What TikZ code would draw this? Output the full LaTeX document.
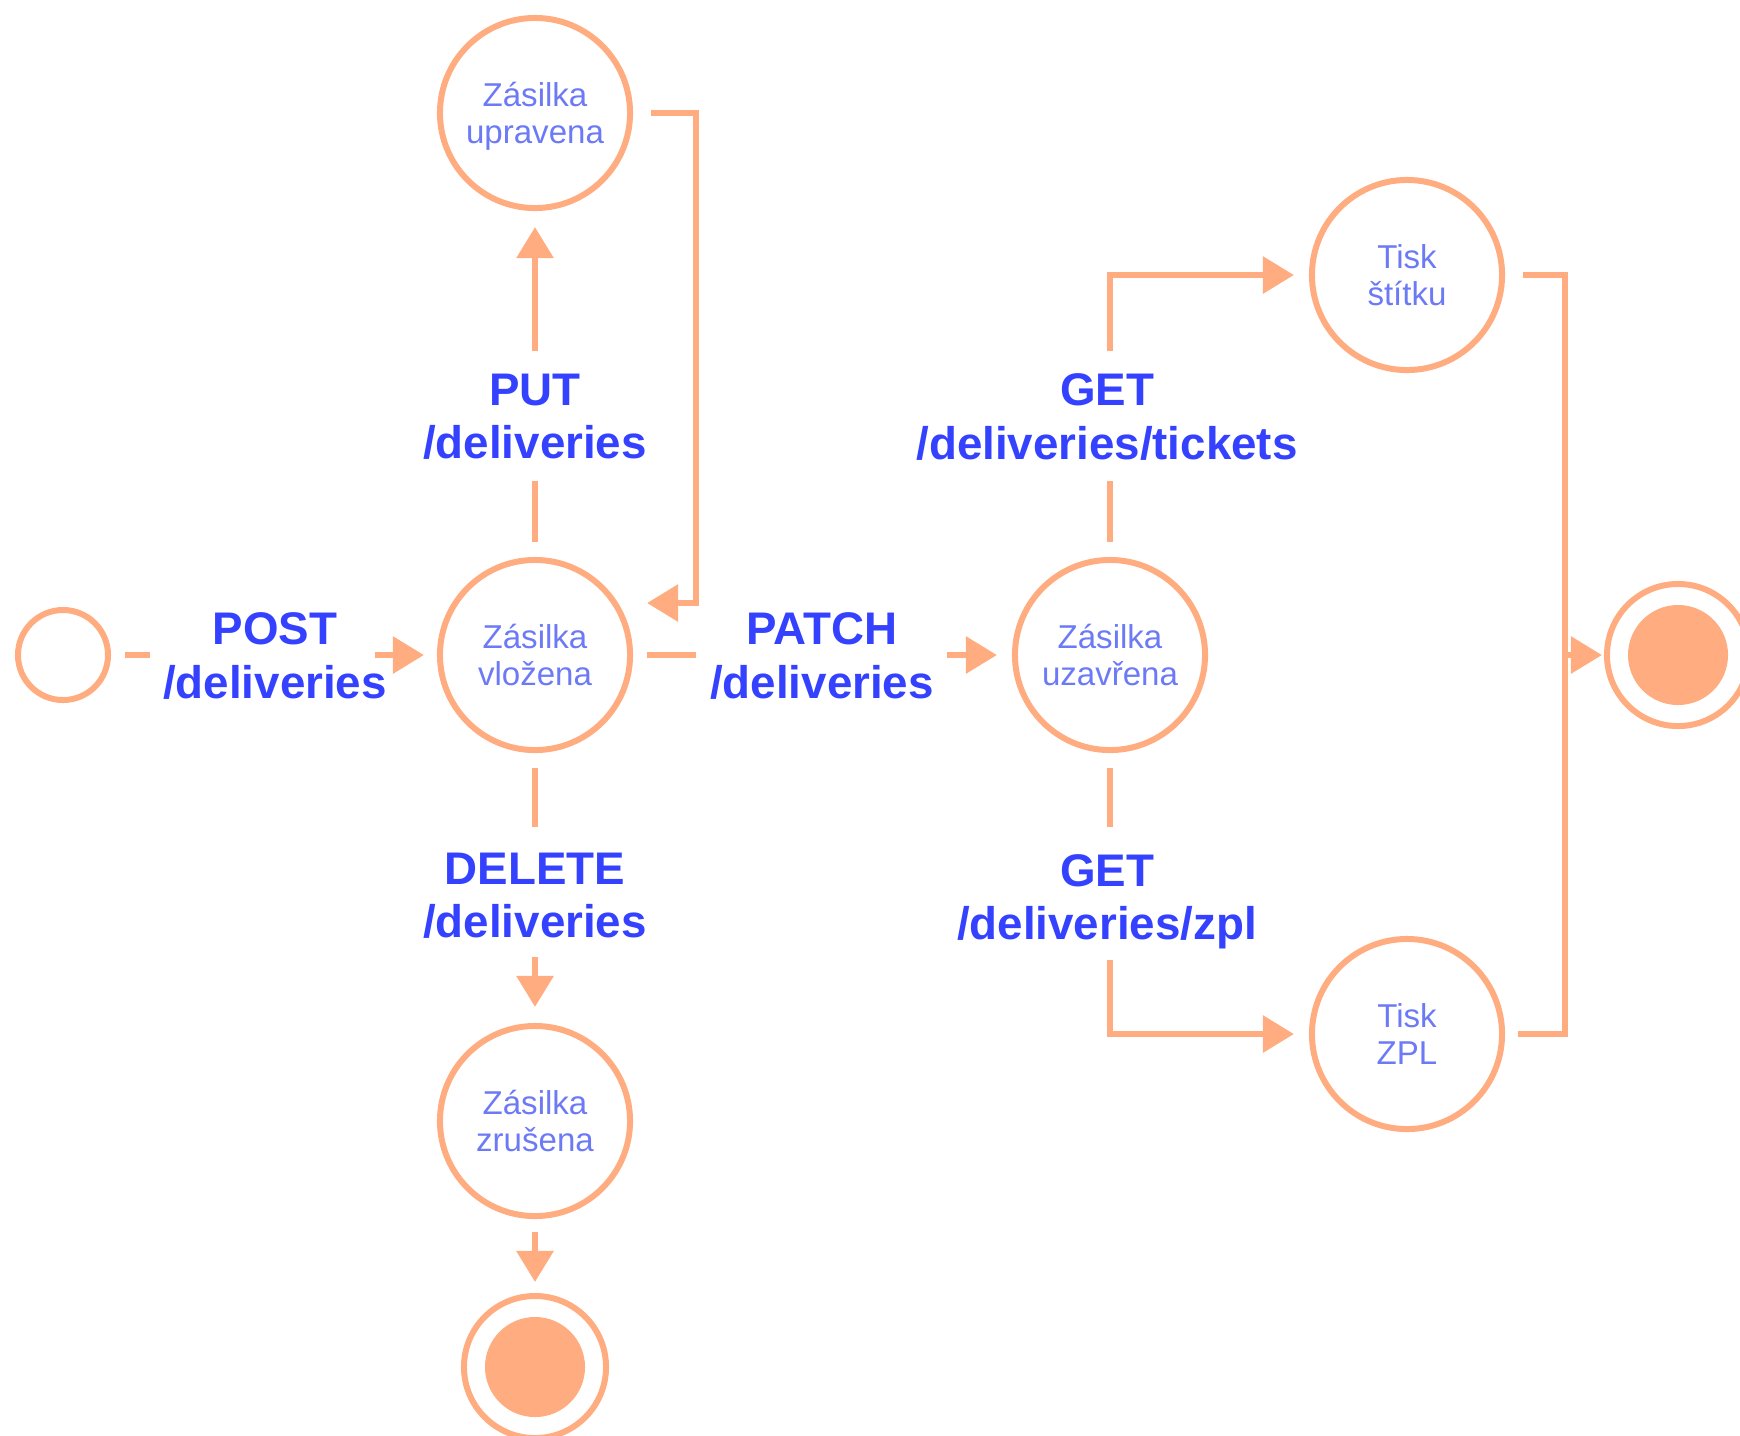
\documentclass[tikz,border=0pt]{standalone}
\usepackage{fontspec}
\setmainfont{Liberation Sans}
\usetikzlibrary{arrows.meta}

\definecolor{peach}{RGB}{255,173,128}
\definecolor{azure}{RGB}{52,66,255}
\definecolor{lilac}{RGB}{108,122,245}

\tikzset{
  state/.style={circle, draw=peach, line width=0.06cm, minimum size=1.9cm, inner sep=0pt,
    align=center, text=lilac, font=\fontsize{9.4}{10.4}\selectfont},
  init/.style={circle, draw=peach, line width=0.06cm, minimum size=0.9cm, inner sep=0pt},
  final/.style={circle, draw=peach, line width=0.06cm, minimum size=1.42cm, inner sep=0pt},
  blob/.style={circle, fill=peach, minimum size=1cm, inner sep=0pt},
  call/.style={align=center, inner sep=0pt, text=azure, font=\fontsize{13}{15.1}\selectfont\bfseries},
  wire/.style={draw=peach, line width=0.06cm},
  flow/.style={wire, -{Triangle[length=0.31cm,width=0.36cm]}},
}

\begin{document}
\begin{tikzpicture}[x=0.01cm, y=-0.01cm]
  \useasboundingbox (0,0) rectangle (1740,1435);

  % states
  \node[init] (start) at (63,655) {}; %
  \node[state] (vlozena) at (535,655) {Zásilka\\vložena}; %
  \node[state] (upravena) at (535,113) {Zásilka\\\smash{upravena}}; %
  \node[state] (zrusena) at (535,1121) {Zásilka\\zrušena}; %
  \node[state] (uzavrena) at (1110,655) {Zásilka\\uzavřena}; %
  \node[state] (stitku) at (1407,275) {Tisk\\štítku}; %
  \node[state] (zpl) at (1407,1034) {Tisk\\ZPL}; %
  \node[final] (endD) at (535,1367) {}; %
  \node[blob] at (endD.center) {}; %
  \node[final] (endR) at (1678,655) {}; %
  \node[blob] at (endR.center) {}; %

  % calls
  \node[call] (post) at (275,656) {POST\\/deliveries}; %
  \node[call] (put) at (535,417) {PUT\\/deliveries}; %
  \node[call] (patch) at (822,656) {PATCH\\/deliveries}; %
  \node[call] (del) at (535,896) {DELETE\\/deliveries}; %
  \node[call] (gett) at (1107,417) {GET\\/deliveries/tickets}; %
  \node[call] (getz) at (1107,902) {GET\\/deliveries/zpl}; %

  \coordinate (postA) at (150,655);
  \coordinate (postB) at (375,655);
  \coordinate (putA) at (535,481);
  \coordinate (putB) at (535,351);
  \coordinate (back) at (696,603);
  \coordinate (patchA) at (696,655);
  \coordinate (patchB) at (947,655);
  \coordinate (delA) at (535,827);
  \coordinate (delB) at (535,957);
  \coordinate (tixA) at (1110,481);
  \coordinate (tixB) at (1110,351);
  \coordinate (zplA) at (1110,827);
  \coordinate (zplB) at (1110,960);
  \coordinate (join) at (1565,655);

  % edges
  \draw[wire, shorten <=0.14cm] (start) -- (postA); %
  \draw[flow, shorten >=0.13cm] (postB) -- (vlozena); %
  \draw[wire, shorten <=0.15cm] (vlozena) -- (putA); %
  \draw[flow, shorten >=0.16cm] (putB) -- (upravena); %
  \draw[flow, shorten <=0.18cm, shorten >=0.14cm] (upravena.east) -| (back) -- (back -| vlozena.east); %
  \draw[wire, shorten <=0.14cm] (vlozena) -- (patchA); %
  \draw[flow, shorten >=0.15cm] (patchB) -- (uzavrena); %
  \draw[wire, shorten <=0.15cm] (vlozena) -- (delA); %
  \draw[flow, shorten >=0.16cm] (delB) -- (zrusena); %
  \draw[flow, shorten <=0.13cm, shorten >=0.11cm] (zrusena) -- (endD); %
  \draw[wire, shorten <=0.15cm] (uzavrena) -- (tixA); %
  \draw[flow, shorten >=0.15cm] (tixB) |- (stitku); %
  \draw[wire, shorten <=0.15cm] (uzavrena) -- (zplA); %
  \draw[flow, shorten >=0.15cm] (zplB) |- (zpl); %
  \draw[wire, shorten <=0.18cm, shorten >=0.13cm] (stitku.east) -| (join) |- (zpl.east); %
  \draw[flow, shorten >=0.02cm] (join) -- (endR); %
\end{tikzpicture}
\end{document}
